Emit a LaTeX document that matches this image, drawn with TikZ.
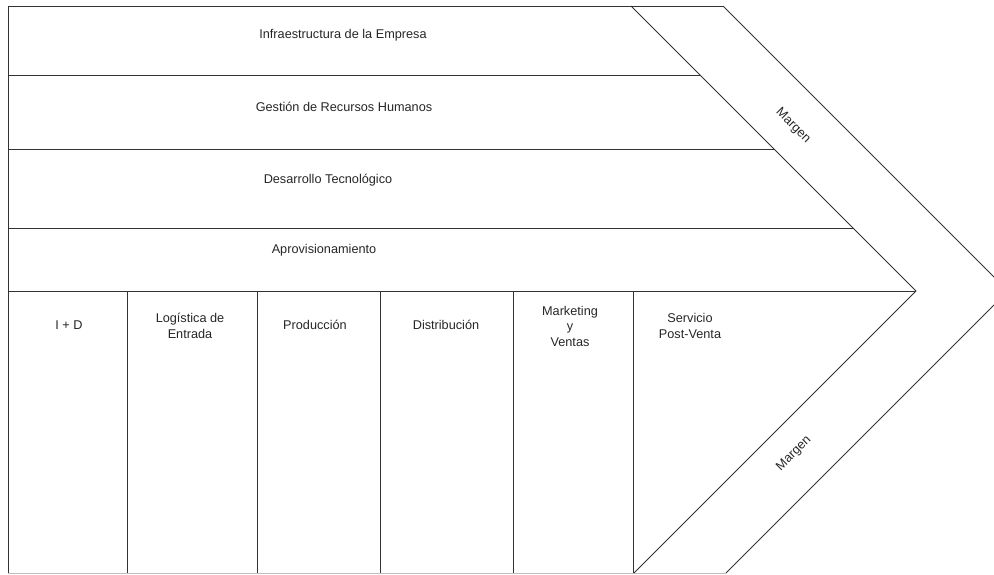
\documentclass[tikz,border=0pt]{standalone}
\usepackage{fontspec}
\setmainfont{Liberation Sans}
\begin{document}
\begin{tikzpicture}[x=1pt,y=-1pt,
  ln/.style={draw=black!80, line width=1pt},
  faint/.style={draw=black!25, line width=0.8pt},
  lbl/.style={font=\fontsize{12.7}{15.5}\selectfont, text=black!85, align=center, inner sep=0pt}]
\useasboundingbox (0,0) rectangle (994,574);
\begin{scope}
\clip (0,0) rectangle (994,574);
% corners of the band
\coordinate (tl) at (8,6);
\coordinate (bl) at (8,573);
\coordinate (itop) at (631,6);
\coordinate (itip) at (916,291);
\coordinate (ibot) at (634,573);
\coordinate (otop) at (723,6);
\coordinate (otip) at (1008,291);
\coordinate (obot) at (726,573);
% outline
\draw[faint] (bl) -- (obot);
\draw[ln] (otop) -- (tl) -- (bl);
\draw[ln] (itop) -- (itip) -- (ibot);
\draw[ln] (otop) -- (otip) -- (obot);
% support rows
\draw[ln] (8,75) -- (700,75);
\draw[ln] (8,149) -- (774,149);
\draw[ln] (8,228) -- (853,228);
\draw[ln] (8,291) -- (itip);
% primary columns
\foreach \cx in {127,257,380,513,633}
  \draw[ln] (\cx,291) -- (\cx,573);
\end{scope}
% labels
\node[lbl] (infra) at (343,35) {Infraestructura de la Empresa};
\node[lbl] (rrhh) at (344,107) {Gestión de Recursos Humanos};
\node[lbl] (tec) at (328,180) {Desarrollo Tecnológico};
\node[lbl] (aprov) at (324,250) {Aprovisionamiento};
\node[lbl] (id) at (69,325) {I + D};
\node[lbl] (log) at (190,326) {Logística de\\Entrada};
\node[lbl] (prod) at (315,325) {Producción};
\node[lbl] (dist) at (446,325) {Distribución};
\node[lbl] (mkt) at (570,326) {Marketing\\y\\Ventas};
\node[lbl] (serv) at (690,326) {Servicio\\Post-Venta};
\node[lbl, rotate=-45] (m1) at (793,126) {Margen};
\node[lbl, rotate=45] (m2) at (794,454) {Margen};
\end{tikzpicture}
\end{document}
